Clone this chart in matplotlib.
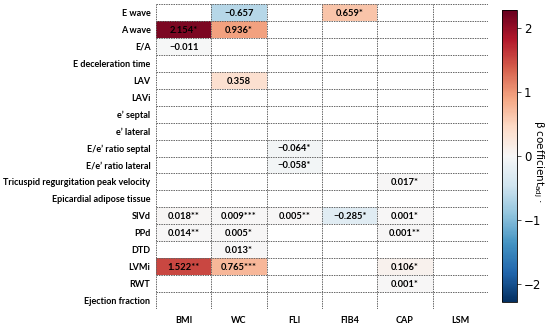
import numpy as np
import matplotlib
matplotlib.use("Agg")
import matplotlib.pyplot as plt
from matplotlib.colors import Normalize

rows = ["E wave", "A wave", "E/A", "E deceleration time", "LAV", "LAVi",
        "e\u2019 septal", "e\u2019 lateral", "E/e\u2019 ratio septal",
        "E/e\u2019 ratio lateral", "Tricuspid regurgitation peak velocity",
        "Epicardial adipose tissue", "SIVd", "PPd", "DTD", "LVMi", "RWT",
        "Ejection fraction"]
cols = ["BMI", "WC", "FLI", "FIB4", "CAP", "LSM"]

nan = np.nan
values = np.array([
    [nan, -0.657, nan, 0.659, nan, nan],
    [2.154, 0.936, nan, nan, nan, nan],
    [-0.011, nan, nan, nan, nan, nan],
    [nan, nan, nan, nan, nan, nan],
    [nan, 0.358, nan, nan, nan, nan],
    [nan, nan, nan, nan, nan, nan],
    [nan, nan, nan, nan, nan, nan],
    [nan, nan, nan, nan, nan, nan],
    [nan, nan, -0.064, nan, nan, nan],
    [nan, nan, -0.058, nan, nan, nan],
    [nan, nan, nan, nan, 0.017, nan],
    [nan, nan, nan, nan, nan, nan],
    [0.018, 0.009, 0.005, -0.285, 0.001, nan],
    [0.014, 0.005, nan, nan, 0.001, nan],
    [nan, 0.013, nan, nan, nan, nan],
    [1.522, 0.765, nan, nan, 0.106, nan],
    [nan, nan, nan, nan, 0.001, nan],
    [nan, nan, nan, nan, nan, nan],
])
stars = [
    ["", "", "", "*", "", ""],
    ["*", "*", "", "", "", ""],
    ["", "", "", "", "", ""],
    ["", "", "", "", "", ""],
    ["", "", "", "", "", ""],
    ["", "", "", "", "", ""],
    ["", "", "", "", "", ""],
    ["", "", "", "", "", ""],
    ["", "", "*", "", "", ""],
    ["", "", "*", "", "", ""],
    ["", "", "", "", "*", ""],
    ["", "", "", "", "", ""],
    ["**", "***", "**", "*", "*", ""],
    ["**", "*", "", "", "**", ""],
    ["", "*", "", "", "", ""],
    ["**", "***", "", "", "*", ""],
    ["", "", "", "", "*", ""],
    ["", "", "", "", "", ""],
]
cbar_ticks = [-2, -1, 0, 1, 2]

FAM = ["Lato", "DejaVu Sans"]

fig = plt.figure(figsize=(5.5, 3.25), dpi=100)
renderer = fig.canvas.get_renderer()


def fit_size(text, target_px, base=7.0):
    t = fig.text(0, 0, text, family=FAM, fontweight="bold", fontsize=base)
    w = t.get_window_extent(renderer).width
    t.remove()
    return base * target_px / w


label_size = fit_size("Tricuspid regurgitation peak velocity", 148)
cell_size = fit_size("0.009***", 36)

vlim = 2.28
ax = fig.add_axes([0.2836, 0.0492, 0.6036, 0.9385])
cax = fig.add_axes([0.9127, 0.0708, 0.0273, 0.898])

cmap = plt.get_cmap("RdBu_r").copy()
cmap.set_bad("white")
norm = Normalize(vmin=-vlim, vmax=vlim)
data = np.ma.masked_invalid(values)
mesh = ax.pcolormesh(np.arange(len(cols) + 1), np.arange(len(rows) + 1), data,
                     cmap=cmap, norm=norm)
ax.set_xlim(0, len(cols))
ax.set_ylim(len(rows), 0)

lfont = dict(family=FAM, fontweight="bold", fontsize=label_size)
tfont = dict(family=FAM, fontweight="bold", fontsize=cell_size)

for i in range(len(rows)):
    for j in range(len(cols)):
        v = values[i, j]
        if not np.isnan(v):
            s = f"{v:.3f}".replace("-", "\u2212") + stars[i][j]
            ax.text(j + 0.5, i + 0.55, s, ha="center", va="center",
                    color="black", **tfont)

for k in range(len(rows) + 1):
    ax.axhline(k, color="#666666", lw=0.7, ls=(0, (1.5, 1)))
for k in range(len(cols) + 1):
    ax.axvline(k, color="#666666", lw=0.7, ls=(0, (1.5, 1)))
for sp in ax.spines.values():
    sp.set_visible(False)

ax.set_yticks(np.arange(len(rows)) + 0.5)
ax.set_yticklabels(rows, **lfont)
ax.set_xticks(np.arange(len(cols)) + 0.5)
ax.set_xticklabels(cols, **lfont)
ax.tick_params(axis="y", length=0, pad=4)
ax.tick_params(axis="x", length=0, pad=5)

cb = fig.colorbar(mesh, cax=cax, ticks=cbar_ticks)
cb.ax.set_yticklabels([str(t).replace("-", "\u2212") for t in cbar_ticks])
cb.ax.tick_params(labelsize=8.5, length=3, width=0.6, color="#333333", pad=2)
cb.outline.set_linewidth(0.6)
cax.text(2.4, 0.48, "\u03b2 coefficient$_{\\mathregular{adj}}$ \u00b7",
         rotation=270, ha="center", va="center", rotation_mode="anchor",
         fontsize=7.5, transform=cax.transAxes)

fig.savefig("out.png", dpi=100)
